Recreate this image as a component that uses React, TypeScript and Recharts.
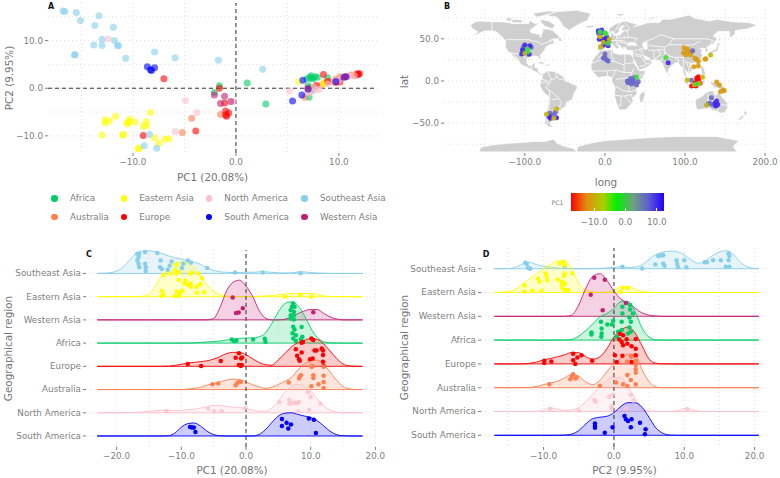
import React from 'react';
import { ScatterChart, ComposedChart, Scatter, Area, XAxis, YAxis, CartesianGrid, ReferenceLine } from 'recharts';

type P = number[];
const FONT = '"DejaVu Sans", sans-serif';
const TICK = '#7f7f7f';
const TITLE = '#757575';
const GRID = '#dfdfdf';

const regionOrderA = ['Africa', 'Australia', 'Eastern Asia', 'Europe', 'North America', 'South America', 'Southeast Asia', 'Western Asia'];
const regionColors: Record<string, string> = {
  'Africa': '#00cd66', 'Australia': '#ff7f50', 'Eastern Asia': '#ffff00', 'Europe': '#ff0000',
  'North America': '#ffc0cb', 'South America': '#0000ff', 'Southeast Asia': '#87ceeb', 'Western Asia': '#c71e74',
};
const ridgeOrder = ['Southeast Asia', 'Eastern Asia', 'Western Asia', 'Africa', 'Europe', 'Australia', 'North America', 'South America'];

// ---- Panel A: PC1, PC2 per sample
const pcaAfrica: P[] = [[-1.6,.5],[-2.1,-.9],[1.1,1.1],[2.9,-3.3],[7.1,-1.9],[7.3,2.6],[7.7,2.4],[7.3,2.1],[7.9,2.3],[7.5,2],[7,.5],[7.3,.2],[8.9,2.2],[7.4,-.4],[7.2,2.3],[6.9,2]];
const pcaAustralia: P[] = [[-4.3,-6.3],[-5.2,-9.3],[-1.5,-5.5],[6.7,-1.9],[10.1,2.4],[11.2,2.8],[11.6,2.6],[11.7,3],[8.3,.7],[8.6,1.1],[9.7,1.9],[9.1,1.4]];
const pcaEasternAsia: P[] = [[-12.7,-6.6],[-12.7,-7.3],[-12.3,-6.9],[-11.7,-5.9],[-13,-9.8],[-10.9,-9.7],[-11,-9.8],[-10.6,-7.3],[-10.4,-7],[-10.3,-6.5],[-10.5,-7.5],[-9.8,-7.1],[-8.7,-7],[-9,-8],[-8.7,-7.9],[-8.3,-5.1],[-7.9,-10.4],[-7.5,-11.6],[-6.9,-10.7],[-6.5,-10.6],[-9.5,-12.7],[-9.4,-12.6],[6.1,1.4],[8.5,.9],[8.6,1.2]];
const pcaEurope: P[] = [[-7,2],[-1.6,0],[-9,-9.9],[-3.9,-9],[-1.1,-3.1],[-.9,-5.9],[-1,-5.6],[-.7,-5.2],[-1,-4.8],[8.5,2.9],[7.8,.6],[9.7,1.2],[10.1,1.3],[11.8,3],[12,3.1],[11.9,2.9],[8.9,1.4]];
const pcaNorthAmerica: P[] = [[-12.4,10.4],[-4.9,-2.6],[-3.8,-5.1],[-5.9,-9.1],[5.2,-.6],[-.3,-2.8],[8.1,-.2],[7.5,.2],[9.6,1.7],[10,1.7],[11,2.6],[11.5,2.6],[7.8,-.3],[7.3,-.8],[8.9,.9],[7,-1]];
const pcaSouthAmerica: P[] = [[-8.6,4.5],[-8.2,3.7],[-7.9,4.3],[-8.3,3.9],[6.5,1.7],[6.4,-1.4],[5.5,-2.7],[10.5,2.3],[10.7,2.4],[9.7,1.4],[7,-.2]];
const pcaSoutheastAsia: P[] = [[-16.8,16.2],[-16.6,16.1],[-15.5,15.9],[-15.1,14.2],[-13.3,15.2],[-13.7,13.2],[-11.9,12.8],[-13,10.3],[-11.8,10],[-13.8,9.1],[-13,9],[-11.5,8.9],[-11.4,9],[-15.7,7],[-15.6,7.1],[-10.7,6.3],[-7.9,7.6],[-5.9,6.4],[-1.7,5.9],[2.6,4],[-8.9,-12.1],[-7.7,-12.6],[-8.4,-9.7]];
const pcaWesternAsia: P[] = [[-2.1,-1.4],[-1.1,-1.7],[-1.5,-3.2],[-.5,-2.8],[10.6,2.4],[7,0]];
const pcaByRegion: Record<string, P[]> = {
  'Africa': pcaAfrica, 'Australia': pcaAustralia, 'Eastern Asia': pcaEasternAsia, 'Europe': pcaEurope,
  'North America': pcaNorthAmerica, 'South America': pcaSouthAmerica, 'Southeast Asia': pcaSoutheastAsia, 'Western Asia': pcaWesternAsia,
};

// ---- Panel B: land outlines (long, lat)
const landNorthAmerica: P[] = [[-168,66],[-162,70],[-156,71],[-141,70],[-128,70],[-115,68],[-108,68],[-95,68],[-94,72],[-88,68],[-82,69],[-86,66],[-94,60],[-92,57],[-82,55],[-80,51],[-79,55],[-77,60],[-78,62],[-70,61],[-65,60],[-60,55],[-56,52],[-60,50],[-66,50],[-70,47],[-65,49],[-64,46],[-61,46],[-66,44],[-70,43],[-74,40],[-76,36],[-81,31],[-80,26],[-82,26],[-83,29],[-89,30],[-94,29],[-97,27],[-98,22],[-95,18],[-91,18],[-90,21],[-87,21],[-88,16],[-84,15],[-83,10],[-80,9],[-77,8],[-80,7],[-85,10],[-92,14],[-96,16],[-105,20],[-108,25],[-113,31],[-110,23],[-115,30],[-117,33],[-121,35],[-124,40],[-124,48],[-130,54],[-135,58],[-145,60],[-152,59],[-160,55],[-165,54],[-158,58],[-165,62]];
const landBaffin: P[] = [[-80,73],[-70,71],[-62,66],[-66,62],[-75,65],[-80,70]];
const landEllesmere: P[] = [[-90,80],[-70,83],[-62,82],[-75,78],[-85,76]];
const landVictoria: P[] = [[-117,70],[-105,69],[-102,72],[-115,73]];
const landBanks: P[] = [[-124,72],[-118,71],[-116,74],[-122,75]];
const landNewfoundland: P[] = [[-59,48],[-56,52],[-53,47]];
const landGreenland: P[] = [[-73,78],[-60,82],[-35,83.5],[-18,80],[-22,72],[-32,68],[-42,62],[-44,60],[-52,65],[-55,70],[-60,76]];
const landCuba: P[] = [[-85,22],[-80,23],[-74,20],[-78,20]];
const landHispaniola: P[] = [[-74,19.5],[-69,19.5],[-69,18],[-74,18]];
const landSouthAmerica: P[] = [[-78,8],[-72,12],[-62,11],[-52,5],[-50,0],[-44,-2],[-35,-6],[-35,-9],[-39,-15],[-41,-22],[-48,-25],[-49,-29],[-54,-34],[-58,-35],[-57,-38],[-62,-39],[-65,-42],[-66,-46],[-69,-51],[-65,-55],[-71,-54],[-75,-50],[-74,-42],[-73,-37],[-71,-30],[-70,-18],[-76,-14],[-81,-6],[-80,0],[-78,3]];
const landAfrica: P[] = [[-6,36],[10,37],[11,33],[20,31],[25,32],[32,31],[35,28],[37,20],[43,12],[51,12],[47,4],[40,-3],[39,-8],[40,-15],[35,-20],[35,-24],[32,-28],[26,-34],[18,-34],[15,-27],[12,-17],[13,-8],[9,-1],[9,4],[4,6],[-4,5],[-8,4],[-13,9],[-17,14],[-17,21],[-13,28],[-9,32]];
const landMadagascar: P[] = [[44,-16],[49,-12],[50,-16],[47,-25],[44,-25],[43,-20]];
const landEurasia: P[] = [[-9,37],[-9,43],[-2,43],[-1,46],[-4,48],[2,51],[8,54],[8,57],[11,56],[11,54],[19,54],[21,57],[24,59],[30,60],[22,60],[21,63],[25,65],[22,66],[17,62],[18,59],[13,55],[11,59],[6,58],[5,62],[14,68],[25,71],[41,67],[35,64],[44,66],[54,69],[68,69],[72,73],[82,73],[105,78],[113,74],[130,71],[140,73],[160,70],[180,69],[190,66],[178,62],[163,60],[162,55],[156,51],[156,58],[155,59],[142,59],[135,54],[140,50],[135,44],[130,42],[127,40],[129,36],[126,34],[125,39],[121,39],[118,38],[122,37],[120,34],[122,30],[119,25],[113,22],[108,21],[106,19],[109,13],[105,9],[100,13],[103,2],[100,6],[98,10],[97,16],[94,18],[92,22],[88,22],[80,15],[78,8],[73,18],[72,21],[67,25],[57,25],[56,27],[50,30],[48,30],[51,25],[56,25],[59,22],[52,16],[43,13],[39,21],[35,28],[35,36],[27,37],[26,40],[23,40],[23,37],[19,42],[13,45],[18,40],[15,38],[9,44],[3,43],[0,39],[-2,37],[-6,36]];
const landUK: P[] = [[-5,50],[1,51],[0,54],[-3,58],[-6,57],[-3,54],[-5,52]];
const landIreland: P[] = [[-10,52],[-6,52],[-6,55],[-10,54]];
const landIceland: P[] = [[-24,65],[-15,66],[-14,64],[-22,63]];
const landSvalbard: P[] = [[12,79],[25,80],[20,77]];
const landNovaya: P[] = [[52,71],[68,77],[58,75]];
const landSakhalin: P[] = [[142,46],[143,54],[144,49]];
const landJapan: P[] = [[130,32],[136,34],[141,36],[142,42],[145,44],[141,45],[139,38],[132,35]];
const landTaiwan: P[] = [[120,22],[122,25],[120,25]];
const landPhilippines: P[] = [[120,18],[122,18],[124,13],[126,7],[122,7],[120,14]];
const landSumatra: P[] = [[95,5],[104,-3],[106,-6],[101,-3]];
const landJava: P[] = [[105,-7],[114,-8],[114,-7],[106,-6]];
const landBorneo: P[] = [[109,1],[117,7],[119,1],[116,-4],[110,-3]];
const landSulawesi: P[] = [[119,-5],[120,1],[125,1],[122,-5]];
const landNewGuinea: P[] = [[131,-1],[141,-3],[147,-6],[150,-10],[143,-9],[138,-8],[133,-4]];
const landAustralia: P[] = [[114,-22],[122,-18],[126,-14],[131,-12],[136,-12],[136,-15],[140,-17],[142,-11],[146,-19],[153,-26],[153,-32],[150,-37],[144,-38],[138,-35],[135,-35],[131,-32],[124,-33],[115,-34],[113,-26]];
const landTasmania: P[] = [[145,-41],[148,-41],[147,-43]];
const landNZNorth: P[] = [[173,-35],[178,-38],[175,-41]];
const landNZSouth: P[] = [[172,-41],[174,-42],[168,-47],[167,-45]];
const landSriLanka: P[] = [[80,9],[82,7],[80,6]];
const landAntarctica: P[] = [[-157,-83.9],[-155,-79],[-140,-76],[-120,-74],[-100,-73],[-90,-72],[-75,-72],[-64,-69],[-60,-74],[-50,-78],[-40,-80],[-35,-83.9],[-34,-78],[-19,-74],[0,-71],[30,-69],[60,-67],[90,-66],[120,-66],[140,-66],[167,-71],[160,-78],[165,-83.9]];
const landPolygons = [landNorthAmerica, landBaffin, landEllesmere, landVictoria, landBanks, landNewfoundland, landGreenland, landCuba, landHispaniola, landSouthAmerica, landAfrica, landMadagascar, landEurasia, landUK, landIreland, landIceland, landSvalbard, landNovaya, landSakhalin, landJapan, landTaiwan, landPhilippines, landSumatra, landJava, landBorneo, landSulawesi, landNewGuinea, landAustralia, landTasmania, landNZNorth, landNZSouth, landSriLanka, landAntarctica];
const waterCaspian: P[] = [[47,45],[53,46],[53,38],[50,37],[47,42]];
const waterBlackSea: P[] = [[28,42],[30,46],[37,46],[41,42],[35,42]];
const waterPolygons = [waterCaspian, waterBlackSea];
const borderLines: P[][] = [
  [[-123,49],[-95,49],[-83,46],[-79,43],[-75,45],[-67,47]], [[-141,70],[-141,60],[-135,58]], [[-117,33],[-106,32],[-97,26]],
  [[-92,14],[-91,18]], [[-72,12],[-67,2],[-70,-4],[-74,-8],[-69,-11],[-58,-20],[-54,-26],[-57,-30],[-53,-33]], [[-78,2],[-70,-1]], [[-80,-3],[-75,-1],[-70,-4]],
  [[-69,-11],[-69,-22],[-70,-33],[-72,-45],[-72,-52]], [[-62,11],[-60,5],[-64,2],[-67,2]], [[-58,-20],[-62,-22],[-67,-22]], [[-60,5],[-57,2],[-52,2]],
  [[-9,27],[-2,32],[-2,35]], [[9,37],[8,30],[12,23]], [[25,32],[25,20],[37,22]], [[-17,21],[-5,25],[12,23],[24,19],[24,10],[34,10],[36,15]], [[-15,12],[3,12],[14,13],[24,10]], [[3,6],[3,12]], [[9,4],[14,13]],
  [[14,2],[30,4],[34,10]], [[34,4],[41,4],[47,8]], [[13,-6],[22,-11],[30,-13],[35,-12],[40,-11]], [[30,4],[30,-8],[30,-13]], [[34,4],[34,-1],[39,-5]], [[12,-17],[24,-18],[33,-16],[35,-22]], [[20,-18],[20,-29],[17,-29]], [[25,-18],[29,-22],[32,-26]],
  [[-2,43],[3,43]], [[2,51],[7,49],[6,44]], [[7,54],[6,51],[7,48],[13,48],[15,51],[14,54]], [[15,51],[24,51],[24,54]], [[13,48],[17,48],[22,48],[29,45]], [[14,46],[20,46],[28,44],[28,42]], [[24,51],[32,52],[40,50],[38,47]], [[28,56],[28,60]], [[19,69],[13,60]], [[25,69],[30,63],[30,60]],
  [[30,52],[28,56]], [[48,46],[60,50],[70,55],[85,50],[98,50],[108,50],[118,50],[127,50],[135,48],[131,43]], [[85,50],[80,43],[74,40],[75,35],[79,30],[88,28],[98,28],[98,24],[102,22],[108,21]], [[98,42],[110,43],[119,47]], [[80,43],[97,43]],
  [[54,42],[68,41],[74,40]], [[54,37],[61,36],[67,37],[74,37]], [[61,36],[61,30],[62,25]], [[67,37],[70,31],[66,29],[62,25]], [[75,35],[74,30],[71,25],[68,24]], [[88,27],[92,25],[92,22]], [[98,24],[98,16],[100,13]], [[102,22],[105,15],[105,10]],
  [[36,36],[42,37],[45,39]], [[35,33],[39,32],[47,30]], [[42,37],[46,35],[48,30]], [[45,39],[48,38],[45,35]], [[37,30],[45,29],[52,20],[56,22]], [[43,17],[52,19]], [[127,38],[129,38]], [[141,-3],[141,-9]], [[117,4],[110,2]],
  [[129,-15],[129,-32]], [[138,-16],[138,-26],[141,-26],[141,-38]], [[129,-26],[153,-29]],
];

// ---- Panel B: samples (long, lat), grouped by displayed PC1 colour
const pc1Scale = ['#ff0000', '#e08f10', '#a8d000', '#00f000', '#6ea080', '#6060d0', '#2000ff'];
const samplesRed: P[] = [[114.6,3.2],[116.7,1.2],[112.5,-2.8],[108.3,-5.9],[113.7,-5.9],[118.7,-2.8],[116.7,5],[115,-1],[111,-5],[117,3]];
const samplesOrange: P[] = [[99,39.5],[98,33.6],[103,34.8],[101,31],[107,31],[112.5,27],[114.6,25.7],[116.7,23],[125,25.7],[126,26.5],[111,17],[116.7,17.8],[107.5,34.8],[103,38],[139.6,-1.2],[143,-4.7],[144.6,-12.6],[148,-10.7],[149,-11.5]];
const samplesOlive: P[] = [[132,30.8],[103,1.2],[122,4.3],[118,-2.8],[111.5,-4.6],[-100,32.8],[-5.4,40.7],[5.4,49.4],[-6,52.6],[-60.4,-33.2],[-73,-39.5],[-63.8,-44.3],[127,-28.5],[-2,46]];
const samplesGreen: P[] = [[-96.7,38],[-96,34.8],[-6,58.5],[0,57.3],[4,44.7],[1.5,56],[76,28],[39.6,4.7],[114.6,-3.6]];
const samplesSlate: P[] = [[-101,33.6],[-92,40],[-102,40],[-98,37.5],[-8,56.5],[-2,48],[0,32],[-2,27],[2,25],[4,23.7],[0,28],[31,0],[35.4,1.2],[37,4],[41.7,-1],[33,-3.6],[29,-2],[39.6,-4.7],[32,3],[28,0],[36,-2],[108,.8],[-68.8,-38.3],[-64.6,-40.3],[-62,-37.5],[133,-19.8],[131,-26.5],[129,-27.3],[135.4,-28.5],[109.6,36]];
const samplesBlue: P[] = [[-100,42.7],[-93.8,41.9],[-103,36.8],[-94.6,31.6],[-104,32],[-7,49.4],[-8.3,59.7],[-4,60.5],[2,52.6],[0,46.6],[4,46.6],[-3,49.4],[-2,42.7],[4,41.9],[-5.4,56.5],[1.3,49.4],[79,21.7],[-69.6,-42.3],[-60.4,-43.5],[-68,-44.3],[137.5,-26.5],[139.6,-23.7],[138.8,-29.6],[141,-28]];
const samplesByColour: [string, P[]][] = [['#ff0000', samplesRed], ['#d99a10', samplesOrange], ['#6a68c8', samplesSlate], ['#4226ec', samplesBlue], ['#c4b800', samplesOlive], ['#3ee03e', samplesGreen]];

// ---- Panel C: density of PC1 per region (PC1, height in rows)
const c_Southeast: P[] = [[-23,0],[-22,.01],[-21,.03],[-20,.1],[-19,.27],[-18,.58],[-17,.86],[-16,.97],[-15,.98],[-14,.93],[-13,.86],[-12,.76],[-11,.68],[-10,.62],[-9,.54],[-8,.48],[-7,.39],[-6,.23],[-5,.13],[-4,.07],[-3,.05],[-2,.04],[-1,.04],[0,.05],[1,.05],[2,.07],[3,.07],[4,.05],[5,.03],[6,.02],[7,.03],[8,.06],[9,.07],[10,.04],[11,.02],[12,.01],[13,0],[18,0]];
const c_Eastern: P[] = [[-23,0],[-17,0],[-16,.02],[-15,.1],[-14,.47],[-13,.9],[-12,1.23],[-11,1.43],[-10,1.49],[-9,1.46],[-8,1.25],[-7,.9],[-6,.5],[-5,.23],[-4,.08],[-3,.02],[-2,.01],[-1,0],[0,0],[1,.01],[2,.02],[3,.03],[4,.05],[5,.08],[6,.11],[7,.13],[8,.14],[9,.14],[10,.14],[11,.09],[12,.03],[13,.01],[14,0],[18,0]];
const c_Western: P[] = [[-23,0],[-6,0],[-5,.06],[-4,.55],[-3,1.25],[-2,1.62],[-1,1.71],[0,1.45],[1,1.03],[2,.42],[3,.08],[4,0],[5,0],[6,.03],[7,.12],[8,.27],[9,.38],[10,.45],[11,.45],[12,.28],[13,.13],[14,.04],[15,0],[18,0]];
const c_Africa: P[] = [[-23,0],[-9,0],[-8,.01],[-7,.03],[-6,.05],[-5,.07],[-4,.09],[-3,.13],[-2,.17],[-1,.2],[0,.22],[1,.22],[2,.27],[3,.43],[4,.85],[5,1.35],[6,1.7],[7,1.78],[8,1.62],[9,1.2],[10,.65],[11,.25],[12,.06],[13,.01],[14,0],[18,0]];
const c_Europe: P[] = [[-23,0],[-13,0],[-12,.01],[-11,.04],[-10,.09],[-9,.14],[-8,.17],[-7,.2],[-6,.24],[-5,.31],[-4,.42],[-3,.55],[-2,.6],[-1,.6],[0,.5],[1,.33],[2,.17],[3,.07],[4,.05],[5,.28],[6,.55],[7,.83],[8,1.02],[9,1.12],[10,1.19],[11,1.16],[12,.97],[13,.66],[14,.34],[15,.1],[16,.02],[17,0],[18,0]];
const c_Australia: P[] = [[-23,0],[-10,0],[-9,.02],[-8,.05],[-7,.1],[-6,.19],[-5,.26],[-4,.33],[-3,.41],[-2,.45],[-1,.43],[0,.33],[1,.21],[2,.12],[3,.05],[4,.1],[5,.22],[6,.36],[7,.52],[8,.83],[9,1.1],[10,1.24],[11,1.26],[12,1.09],[13,.75],[14,.4],[15,.13],[16,.03],[17,0],[18,0]];
const c_North: P[] = [[-23,0],[-19,0],[-18,.01],[-17,.02],[-16,.03],[-15,.06],[-14,.09],[-13,.1],[-12,.1],[-11,.1],[-10,.1],[-9,.13],[-8,.15],[-7,.2],[-6,.26],[-5,.32],[-4,.31],[-3,.27],[-2,.24],[-1,.22],[0,.18],[1,.12],[2,.07],[3,.07],[4,.2],[5,.5],[6,.88],[7,1.13],[8,1.22],[9,1.15],[10,.93],[11,.6],[12,.3],[13,.12],[14,.03],[15,0],[18,0]];
const c_South: P[] = [[-23,0],[-13,0],[-12,.01],[-11,.12],[-10,.38],[-9,.53],[-8,.56],[-7,.42],[-6,.2],[-5,.06],[-4,.01],[-3,0],[1,0],[2,.06],[3,.27],[4,.58],[5,.86],[6,.98],[7,1],[8,.93],[9,.86],[10,.8],[11,.66],[12,.44],[13,.2],[14,.06],[15,.01],[16,0],[18,0]];
const densityC = [c_Southeast, c_Eastern, c_Western, c_Africa, c_Europe, c_Australia, c_North, c_South];

// ---- Panel C: jittered samples (PC1, height above row)
const cp_Southeast: P[] = [[-16.8,.85],[-16.5,.85],[-15.6,.92],[-13.7,.88],[-16.6,.7],[-16.8,.56],[-16.6,.42],[-16.5,.27],[-15.6,.42],[-15.5,.27],[-15.5,.11],[-13.2,.56],[-13.3,.27],[-13,.19],[-11.5,.52],[-11.8,.33],[-12.1,.16],[-9,.56],[-8.5,.47],[-6,.23],[-1.7,.04],[2.6,.04],[8.4,.01],[-9.9,.23],[-9.7,.42]];
const cp_Eastern: P[] = [[-12.75,.93],[-11.7,1],[-10.95,1.15],[-10.8,1],[-10.4,1.05],[-10.7,1.36],[-8.4,1.03],[-8.6,1],[-7.4,1],[-6.8,.79],[-10.4,.72],[-9.4,.69],[-9.5,.57],[-9,.5],[-8.6,.57],[-8.5,.43],[-7.6,.43],[-7.1,.53],[-7.6,.17],[-6.5,.19],[-13,.24],[-12.75,.07],[-13,.03],[-10.7,.22],[-9.9,.26],[-11,.03],[-10.4,.03],[-10.2,.14],[6,0],[8.4,.07],[10.1,0]];
const cp_Western: P[] = [[-2.06,.96],[-.5,.5],[-1.54,.3],[-1.13,.32],[10.4,.33]];
const cp_Africa: P[] = [[-2.2,.16],[-1.85,.09],[-1.5,.11],[1.1,.16],[2.9,.19],[3,.06],[7.3,1.71],[7.1,1.57],[7.5,1.57],[6.9,1.42],[7.4,1.35],[6.9,1.2],[7.4,1.2],[6.9,1.06],[7.4,1.02],[7.3,.7],[7.5,.59],[7.2,.42],[7.7,.34],[7.3,.2],[7.7,.09],[8.6,.69],[8.7,.27],[8.5,.17]];
const cp_Europe: P[] = [[-9,.1],[-6.94,.01],[-3.9,.23],[-1.6,.37],[-1.08,.56],[-.77,.34],[-.6,.38],[-1.08,.06],[-.8,.01],[-.67,.06],[7.7,.73],[7.9,.45],[8.2,.3],[8.3,.24],[8.6,.59],[8.6,1.02],[8.8,1.05],[10.1,1.2],[10.4,1.13],[10.6,.68],[10.9,.68],[9.9,.3],[10.3,.34],[11.7,.77],[11.9,.68],[11.9,.49],[11.9,.2],[12,.01]];
const cp_Australia: P[] = [[-5.2,.23],[-4.3,.26],[-1.6,.19],[-1.3,.29],[-1,.33],[-.8,.33],[6.6,.3],[8.2,.47],[8.5,.62],[8.3,.55],[10.1,.14],[10.1,.98],[10.3,1],[10.4,.62],[10.4,.5],[11.2,.23],[12,.59],[12,.33],[12,.07],[12,.98]];
const cp_North: P[] = [[-12.3,.06],[-5.86,.17],[-4.94,.07],[-3.75,.07],[-.15,.2],[5.14,.45],[6.68,.56],[6.68,.39],[7.04,.42],[7.56,.43],[7.97,.42],[8.2,.46],[8.1,.06],[9.77,.13],[9.6,.88],[10,.68],[11.5,.4]];
const cp_South: P[] = [[5.55,.73],[5.55,.43],[6.27,.57],[6.53,.32],[6.94,.49],[9.72,.75],[10.49,.7],[10.8,.13],[-8.64,.39],[-8.38,.36],[-8.07,.36],[-7.82,.17]];
const samplesC = [cp_Southeast, cp_Eastern, cp_Western, cp_Africa, cp_Europe, cp_Australia, cp_North, cp_South];

// ---- Panel D: density of PC2 per region (PC2, height in rows)
const d_Southeast: P[] = [[-17,0],[-16,0],[-15,.01],[-14,.05],[-13,.2],[-12,.27],[-11,.17],[-10,.1],[-9,.06],[-8,.03],[-7,.01],[-6,.01],[-5,0],[-3,0],[-2,.01],[-1,.03],[0,.06],[1,.08],[2,.05],[3,.07],[4,.16],[5,.4],[6,.6],[7,.7],[8,.74],[9,.71],[10,.58],[11,.36],[12,.23],[13,.32],[14,.54],[15,.7],[16,.76],[17,.59],[18,.27],[19,.07],[20,.01],[20.6,0]];
const d_Eastern: P[] = [[-17,0],[-16,.01],[-15,.05],[-14,.14],[-13,.36],[-12,.58],[-11,.8],[-10,1],[-9,1.18],[-8,1.32],[-7,1.33],[-6,.98],[-5,.38],[-4,.11],[-3,.03],[-2,0],[-1,.01],[0,.11],[1,.24],[2,.25],[3,.14],[4,.04],[5,.01],[6,0],[20.6,0]];
const d_Western: P[] = [[-17,0],[-7,0],[-6,.05],[-5,.48],[-4,1.18],[-3,1.68],[-2,1.79],[-1,1.51],[0,1.06],[1,.72],[2,.57],[3,.34],[4,.14],[5,.05],[6,.01],[7,0],[20.6,0]];
const d_Africa: P[] = [[-17,0],[-7,0],[-6,.03],[-5,.17],[-4,.4],[-3,.68],[-2,.98],[-1,1.12],[0,1.33],[1,1.62],[2,1.62],[3,1.2],[4,.5],[5,.12],[6,.01],[7,0],[20.6,0]];
const d_Europe: P[] = [[-17,0],[-13,0],[-12,.03],[-11,.08],[-10,.17],[-9,.23],[-8,.3],[-7,.38],[-6,.48],[-5,.47],[-4,.3],[-3,.2],[-2,.3],[-1,.64],[0,1.13],[1,1.42],[2,1.55],[3,1.3],[4,.76],[5,.2],[6,.03],[7,0],[20.6,0]];
const d_Australia: P[] = [[-17,0],[-13,0],[-12,.01],[-11,.05],[-10,.13],[-9,.2],[-8,.27],[-7,.42],[-6,.56],[-5,.48],[-4,.24],[-3,.13],[-2,.3],[-1,.67],[0,1.02],[1,1.24],[2,1.41],[3,1.4],[4,.75],[5,.25],[6,.03],[7,0],[20.6,0]];
const d_North: P[] = [[-17,0],[-11,0],[-10,.06],[-9,.15],[-8,.1],[-7,.04],[-6,.07],[-5,.17],[-4,.42],[-3,.73],[-2,1.03],[-1,1.3],[0,1.44],[1,1.42],[2,1.03],[3,.55],[4,.1],[5,.02],[6,0],[8,0],[9,.03],[10,.13],[11,.09],[12,.01],[13,0],[20.6,0]];
const d_South: P[] = [[-17,0],[-8,0],[-7,.01],[-6,.05],[-5,.2],[-4,.48],[-3,.7],[-2,.76],[-1,.8],[0,.95],[1,1.22],[2,1.37],[3,1.37],[4,1.18],[5,.75],[6,.3],[7,.08],[8,.01],[9,0],[20.6,0]];
const densityD = [d_Southeast, d_Eastern, d_Western, d_Africa, d_Europe, d_Australia, d_North, d_South];

// ---- Panel D: jittered samples (PC2, height above row)
const dp_Southeast: P[] = [[-12.6,.25],[-12.4,.2],[-12.2,.04],[-11.9,0],[1.2,.08],[4,.01],[-7,.08],[6.3,.53],[6.8,.55],[7,.57],[5.9,.18],[7,.22],[7.2,.11],[8.9,.36],[9,.2],[9.1,.06],[10,.36],[10.3,.06],[12.9,.27],[13.2,.27],[14.1,.36],[15.2,.36],[16.3,.64],[16.4,.53],[16.3,.36],[15.9,.08],[16.4,.08]];
const dp_Eastern: P[] = [[-12.7,.29],[-12.7,.04],[-11.6,.07],[-10.3,.07],[-10.8,.59],[-10.6,.45],[-9.7,.8],[-9.6,.69],[-9.5,.52],[-8,.55],[-7.7,1.22],[-7.2,1.29],[-7,1.15],[-7,.8],[-7.1,.69],[-7.4,.45],[-7.4,.31],[-7,.38],[-7.3,.17],[-6.9,.1],[-6.5,.1],[-5.9,.8],[.95,.03],[1.3,.2],[2,.2]];
const dp_Western: P[] = [[-2.8,1.62],[-1.3,1.54],[-3.3,.91],[-1.6,.25],[1.7,.56]];
const dp_Africa: P[] = [[-3.2,.32],[-3.2,.24],[-1.85,.77],[-1.75,.49],[-1.75,.28],[-1.8,.14],[-.95,.66],[-.3,.66],[-.1,.81],[1.1,.77],[.6,.35],[1.1,.42],[1.2,1.12],[1.2,1.4],[2.3,1.47],[2.3,1.29],[2.7,1.12],[2.2,.95],[2.4,.77],[2.2,.53],[2.4,.35],[2,.28],[.4,.14]];
const dp_Europe: P[] = [[-9.9,.04],[-9.9,.13],[-8.9,.1],[-5.8,.43],[-5.8,.15],[-5.5,0],[-5.2,.27],[-4.6,.36],[-3.1,.13],[.85,1.27],[1.3,1.2],[.76,1.02],[1.1,.92],[1.8,1.04],[1.3,.78],[1.9,.85],[2.5,.74],[3.1,1.05],[3.1,.64],[3.1,.36],[2.5,.32],[1.2,.34],[.14,.36],[.4,.08],[2.5,.08]];
const dp_Australia: P[] = [[-9.2,.14],[-6.2,.35],[-6,.46],[-5.8,.56],[-5.5,.39],[-5.3,.43],[-2,.08],[.3,.22],[1.3,.14],[1.9,.07],[1.9,.53],[2.4,.32],[3.1,.15],[3.1,1.12],[3.1,.95],[3.1,.77],[3.1,.63],[1.9,1.09],[2.5,1.33]];
const dp_North: P[] = [[-9.1,.11],[-5,.04],[-2.8,.48],[-2.6,.41],[-.7,.62],[-.2,.69],[-.33,.22],[-.33,.13],[2.4,.69],[2.75,.45],[10.4,.11],[1.7,.13]];
const dp_South: P[] = [[-2.7,.5],[-2.7,.39],[-2.7,.32],[-1.3,.11],[-.2,.34],[1.5,.81],[1.7,.67],[2,.6],[2.5,.67],[3.7,.53],[2.4,.34],[4.5,.25],[4.4,.04]];
const samplesD = [dp_Southeast, dp_Eastern, dp_Western, dp_Africa, dp_Europe, dp_Australia, dp_North, dp_South];

const rowTicks = [1, 2, 3, 4, 5, 6, 7, 8];
const fmt = (v: number) => v.toFixed(1).replace('-', '\u2212');
const tickStyle = { fontSize: 8.8, fill: TICK, fontFamily: FONT };
const titleStyle = { fontSize: 10.4, fill: TITLE, fontFamily: FONT };
const xy = (pts: P[]) => pts.map(([x, y]) => ({ x, y }));
const dot = (r: number, fill: string, op: number) => (p: any) => <circle cx={p.cx} cy={p.cy} r={r} fill={fill} fillOpacity={op} />;
const noDot = () => <g />;
const closed = (pts: P[]) => xy([...pts, pts[0]]);
const regionTick = (p: any) => (
  <text x={p.x} y={p.y} dy="0.33em" textAnchor="end" style={tickStyle}>{ridgeOrder[8 - p.payload.value]}</text>
);

function PanelA() {
  return (
    <ScatterChart width={390} height={235} margin={{ top: 3, right: 13, left: 0, bottom: 0 }} style={{ position: 'absolute', left: 0, top: 0 }}>
      <CartesianGrid stroke={GRID} strokeDasharray="1 3" verticalValues={[-15, -10, -5, 0, 5, 10]} horizontalValues={[15, 10, 5, 0, -5, -10]} />
      <XAxis type="number" dataKey="x" domain={[-18.25, 13.7]} allowDataOverflow ticks={[-10, 0, 10]} tickFormatter={fmt} tick={tickStyle} axisLine={false} tickLine={{ stroke: TICK }} tickSize={3} tickMargin={3} height={82} interval={0}
        label={{ value: 'PC1 (20.08%)', position: 'insideTop', offset: 21, style: titleStyle }} />
      <YAxis type="number" dataKey="y" domain={[-13.6, 17.9]} allowDataOverflow ticks={[-10, 0, 10]} tickFormatter={fmt} tick={tickStyle} axisLine={false} tickLine={{ stroke: TICK }} tickSize={3} width={48} interval={0}
        label={{ value: 'PC2 (9.95%)', angle: -90, position: 'insideLeft', offset: 9, style: { ...titleStyle, textAnchor: 'middle' } }} />
      <ReferenceLine x={0} stroke="#333" strokeDasharray="4 3" />
      <ReferenceLine y={0} stroke="#333" strokeDasharray="4 3" />
      {regionOrderA.map((r) => (
        <Scatter key={r} name={r} data={xy(pcaByRegion[r])} isAnimationActive={false} shape={dot(3.5, regionColors[r], 0.6)} />
      ))}
    </ScatterChart>
  );
}

function PanelB() {
  return (
    <ScatterChart width={390} height={235} margin={{ top: 10, right: 12, left: 0, bottom: 0 }} style={{ position: 'absolute', left: 390, top: 0 }}>
      <CartesianGrid stroke={GRID} strokeDasharray="1 3" verticalValues={[-150, -100, -50, 0, 50, 100, 150, 200]} horizontalValues={[75, 50, 25, 0, -25, -50, -75]} />
      <XAxis type="number" dataKey="x" domain={[-201, 203.75]} allowDataOverflow ticks={[-100, 0, 100, 200]} tickFormatter={fmt} tick={tickStyle} axisLine={false} tickLine={{ stroke: TICK }} tickSize={3} tickMargin={3} height={82} interval={0}
        label={{ value: 'long', position: 'insideTop', offset: 26, style: titleStyle }} />
      <YAxis type="number" dataKey="y" domain={[-85.4, 84.2]} allowDataOverflow ticks={[-50, 0, 50]} tickFormatter={fmt} tick={tickStyle} axisLine={false} tickLine={{ stroke: TICK }} tickSize={3} width={54} interval={0}
        label={{ value: 'lat', angle: -90, position: 'insideLeft', offset: 14, style: { ...titleStyle, textAnchor: 'middle' } }} />
      {landPolygons.map((poly, i) => (
        <Scatter key={'land' + i} data={closed(poly)} isAnimationActive={false} shape={noDot} line={{ fill: '#cfcfcf', stroke: '#ffffff', strokeWidth: 0.4 }} lineType="joint" />
      ))}
      {waterPolygons.map((poly, i) => (
        <Scatter key={'water' + i} data={closed(poly)} isAnimationActive={false} shape={noDot} line={{ fill: '#ffffff', stroke: '#ffffff', strokeWidth: 0.4 }} lineType="joint" />
      ))}
      {borderLines.map((ln, i) => (
        <Scatter key={'border' + i} data={xy(ln)} isAnimationActive={false} shape={noDot} line={{ fill: 'none', stroke: '#ffffff', strokeWidth: 0.8 }} lineType="joint" />
      ))}
      {samplesByColour.map(([c, pts]) => (
        <Scatter key={c} data={xy(pts)} isAnimationActive={false} shape={dot(2.5, c, 0.9)} />
      ))}
    </ScatterChart>
  );
}

type RidgeProps = { left: number; yw: number; top: number; xDomain: number[]; yDomain: number[]; xTicks: number[]; gridX: number[]; density: P[][]; samples: P[][]; xTitle: string; titleOffsetLeft: number };
function Ridge({ left, yw, top, xDomain, yDomain, xTicks, gridX, density, samples, xTitle, titleOffsetLeft }: RidgeProps) {
  const level = (i: number) => 8 - i;
  return (
    <ComposedChart width={390} height={238} margin={{ top, right: 12, left: 0, bottom: 0 }} style={{ position: 'absolute', left, top: 240 }}>
      <CartesianGrid stroke={GRID} strokeDasharray="1 3" verticalValues={gridX} horizontalValues={rowTicks} />
      <XAxis type="number" dataKey="x" domain={xDomain} allowDataOverflow ticks={xTicks} tickFormatter={fmt} tick={tickStyle} axisLine={false} tickLine={{ stroke: TICK }} tickSize={3} tickMargin={3} height={31} interval={0}
        label={{ value: xTitle, position: 'insideTop', offset: 20, style: titleStyle }} />
      <YAxis type="number" dataKey="y" domain={yDomain} allowDataOverflow ticks={rowTicks} tick={regionTick} axisLine={false} tickLine={{ stroke: TICK }} tickSize={3} width={yw} interval={0}
        label={{ value: 'Geographical region', angle: -90, position: 'insideLeft', offset: titleOffsetLeft, style: { ...titleStyle, textAnchor: 'middle' } }} />
      {ridgeOrder.flatMap((name, i) => {
        const color = regionColors[name];
        const base = level(i);
        return [
          <Area key={'a' + name} name={name} data={density[i].map(([x, h]) => ({ x, range: [base, base + h] }))} dataKey="range" type="monotone" stroke={color} strokeWidth={0.9} fill={color} fillOpacity={0.2} dot={false} activeDot={false} isAnimationActive={false} />,
          <Scatter key={'s' + name} data={samples[i].map(([x, h]) => ({ x, y: base + h }))} isAnimationActive={false} shape={dot(2.25, color, name === 'North America' ? 0.8 : 1)} />,
        ];
      })}
      <ReferenceLine x={0} stroke="#333" strokeDasharray="4 3" />
    </ComposedChart>
  );
}

const Text = ({ x, y, children, size = 8.8, bold = false, color = TICK, anchor = 'start' }: any) => (
  <span style={{ position: 'absolute', left: x, top: y, fontFamily: FONT, fontSize: size, fontWeight: bold ? 700 : 400, color, lineHeight: 1, whiteSpace: 'nowrap', transform: `translate(${anchor === 'middle' ? '-50%' : '0'},-50%)` }}>{children}</span>
);

const legendDotX = [54.3, 124, 209, 304.3];
const legendTextX = [70, 139.3, 224.3, 320];
const legendRowY = [198.3, 217];
const legendItems = [['Africa', 'Australia'], ['Eastern Asia', 'Europe'], ['North America', 'South America'], ['Southeast Asia', 'Western Asia']];
const colourBarStops = [0, 17, 35, 49, 67, 83, 100];
const colourBarTicks = [[-10, 594], [0, 625.3], [10, 656.7]];

export default function App() {
  return (
    <div style={{ position: 'absolute', left: 0, top: 0, width: 780, height: 478, background: '#fff', overflow: 'hidden' }}>
      <PanelA />
      <PanelB />
      <Ridge left={0} yw={86} top={10} xDomain={[-24.73, 20.4]} yDomain={[0.525, 9.01]} xTicks={[-20, -10, 0, 10, 20]} gridX={[-20, -15, -10, -5, 0, 5, 10, 15, 20]} density={densityC} samples={samplesC} xTitle="PC1 (20.08%)" titleOffsetLeft={8} />
      <Ridge left={390} yw={91} top={8} xDomain={[-18.9, 21.9]} yDomain={[0.508, 8.87]} xTicks={[-10, 0, 10, 20]} gridX={[-15, -10, -5, 0, 5, 10, 15, 20]} density={densityD} samples={samplesD} xTitle="PC2 (9.95%)" titleOffsetLeft={14} />
      {legendItems.map((col, ci) => col.map((name, ri) => (
        <React.Fragment key={name}>
          <span style={{ position: 'absolute', left: legendDotX[ci] - 3.3, top: legendRowY[ri] - 3.3, width: 6.6, height: 6.6, borderRadius: '50%', background: regionColors[name] }} />
          <Text x={legendTextX[ci]} y={legendRowY[ri]}>{name}</Text>
        </React.Fragment>
      )))}
      <Text x={51} y={7} bold color="#111" anchor="middle" size={8}>A</Text>
      <Text x={447} y={7} bold color="#111" anchor="middle" size={8}>B</Text>
      <Text x={89} y={255} bold color="#111" anchor="middle" size={8}>C</Text>
      <Text x={486} y={255} bold color="#111" anchor="middle" size={8}>D</Text>
      <div style={{ position: 'absolute', left: 571, top: 192.7, width: 93.3, height: 18.3, background: `linear-gradient(to right, ${pc1Scale.map((c, i) => `${c} ${colourBarStops[i]}%`).join(', ')})` }} />
      <Text x={551.5} y={203} size={6.2}>PC1</Text>
      {colourBarTicks.map(([v, x]) => (
        <React.Fragment key={v}>
          <span style={{ position: 'absolute', left: x - 0.25, top: 207.5, width: 0.6, height: 3.5, background: '#fff' }} />
          <Text x={x} y={221.7} anchor="middle">{fmt(v)}</Text>
        </React.Fragment>
      ))}
    </div>
  );
}
